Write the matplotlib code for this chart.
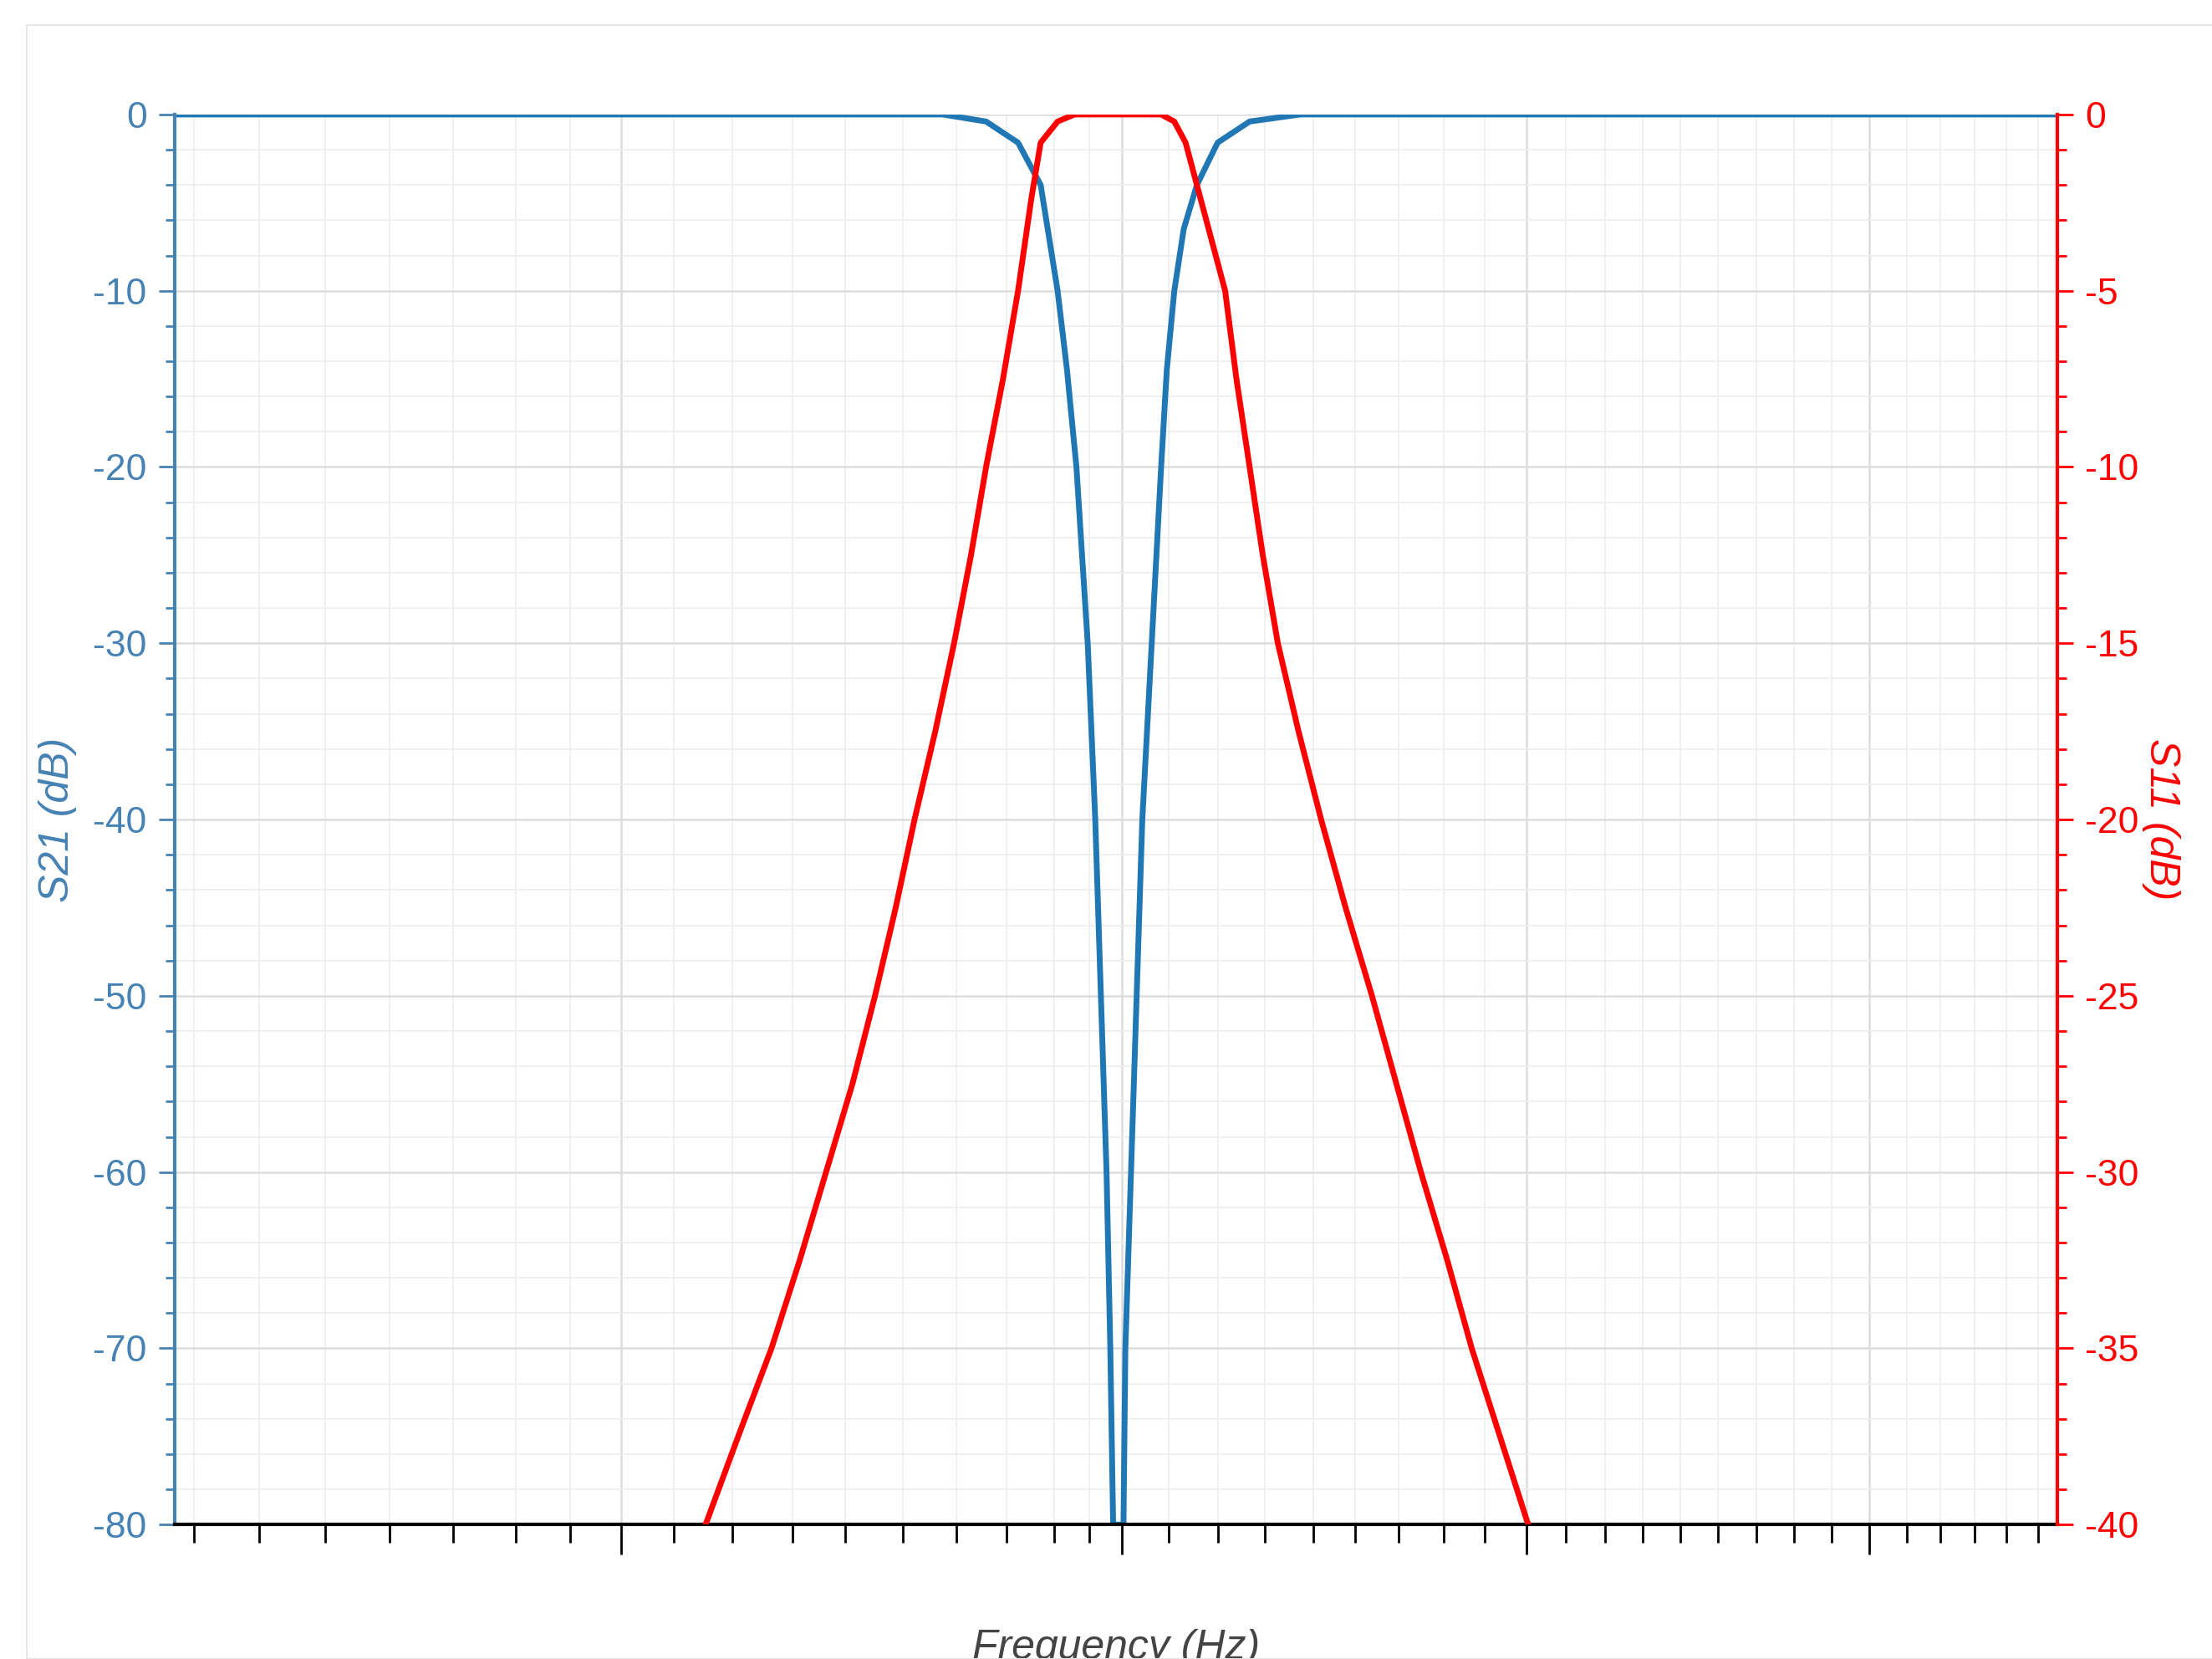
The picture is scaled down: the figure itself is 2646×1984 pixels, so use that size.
import matplotlib.pyplot as plt
from matplotlib.patches import Rectangle

plt.rcParams["font.family"] = ["Liberation Sans", "DejaVu Sans"]
plt.rcParams["axes.unicode_minus"] = False

# frequency in arbitrary units (0..100 across the plot), no tick labels in the source
s21_freq = [0, 40.8, 43.1, 44.8, 46.0, 46.9, 47.4, 47.9, 48.2, 48.5, 48.9, 49.2, 49.5, 49.7, 49.85,
            50.4, 50.5, 50.8, 51.1, 51.4, 51.9, 52.4, 52.7, 53.1, 53.6, 54.3, 55.4, 57.1, 59.8, 100]
s21_db = [0, 0, -0.4, -1.6, -4, -10, -14.5, -20, -25, -30, -40, -50, -60, -70, -80,
          -80, -70, -60, -50, -40, -30, -20, -14.5, -10, -6.5, -4, -1.6, -0.4, 0, 0]

s11_freq = [28.2, 30.0, 31.7, 33.2, 34.6, 36.0, 37.2, 38.3, 39.3, 40.4, 41.4, 42.3, 43.1,
            44.0, 44.8, 45.5, 46.0, 46.9, 47.8,
            52.4, 53.1, 53.7, 54.5, 55.8, 56.4, 57.1, 57.8, 58.6, 59.7, 60.9, 62.2, 63.6,
            64.9, 66.2, 67.6, 68.9, 70.4, 71.9]
s11_db = [-40, -37.4, -35, -32.5, -30, -27.5, -25, -22.5, -20, -17.5, -15, -12.5, -10,
          -7.5, -5, -2.4, -0.8, -0.2, 0,
          0, -0.2, -0.8, -2.4, -5, -7.5, -10, -12.5, -15, -17.5, -20, -22.5, -25,
          -27.5, -30, -32.5, -35, -37.5, -40]

x_major = [23.7, 50.3, 71.8, 90.0]
x_minor = [1.0, 4.5, 8.0, 11.4, 14.8, 18.1, 21.0,
           26.5, 29.6, 32.8, 35.6, 38.7, 41.5, 44.2, 46.7, 48.6,
           52.8, 55.4, 57.9, 60.5, 62.7, 65.0, 67.4, 69.6,
           73.9, 76.0, 78.0, 80.0, 82.0, 84.0, 86.0, 88.0,
           92.0, 93.8, 95.6, 97.3, 99.0]

blue = "#1f77b4"
steel = "#4682b4"
red = "#ff0000"

fig = plt.figure(figsize=(26.46, 19.84), dpi=100)
fig.patches.append(Rectangle((0.012, 0.0), 0.99, 0.985, transform=fig.transFigure,
                             fill=False, edgecolor="#e6e6e6", linewidth=1.5))
ax = fig.add_axes([0.079, 0.081, 0.851, 0.850])
ax2 = ax.twinx()

ax.plot(s21_freq, s21_db, color=blue, linewidth=5, solid_joinstyle="round")
ax2.plot(s11_freq, s11_db, color=red, linewidth=5, solid_joinstyle="round")

ax.set_xlim(0, 100)
ax.set_ylim(-80, 0)
ax2.set_ylim(-40, 0)

ax.set_xticks(x_major)
ax.set_xticks(x_minor, minor=True)
ax.set_xticklabels([])
ax.set_yticks(range(-80, 1, 10))
ax.set_yticks(range(-80, 1, 2), minor=True)
ax2.set_yticks(range(-40, 1, 5))
ax2.set_yticks(range(-40, 1, 1), minor=True)

ax.grid(True, which="major", color="#dddddd", linewidth=1.8)
ax.grid(True, which="minor", color="#eeeeee", linewidth=1.2)
ax.set_axisbelow(True)

ax.spines["top"].set_visible(False)
ax2.spines["top"].set_visible(False)
ax2.spines["right"].set_color(red)
ax2.spines["right"].set_linewidth(3)
ax.spines["left"].set_color(steel)
ax.spines["left"].set_linewidth(3)
ax.spines["bottom"].set_linewidth(3)
ax2.spines["left"].set_visible(False)
ax2.spines["bottom"].set_visible(False)

ax.tick_params(axis="x", which="major", length=26, width=2, direction="out")
ax.tick_params(axis="x", which="minor", length=16, width=2, direction="out")
ax.tick_params(axis="y", which="major", length=14, width=2, colors=steel,
               labelsize=32, pad=10)
ax.tick_params(axis="y", which="minor", length=8, width=2, color=steel)
ax2.tick_params(axis="y", which="major", length=14, width=2, colors=red,
                labelsize=32, pad=10)
ax2.tick_params(axis="y", which="minor", length=8, width=2, color=red)

ax.set_ylabel("S21 (dB)", color=steel, fontsize=36, style="italic", labelpad=14)
ax2.set_ylabel("S11 (dB)", color=red, fontsize=36, style="italic", rotation=-90,
               labelpad=36)
ax.set_xlabel("Frequency (Hz)", color="#444444", fontsize=36, style="italic",
              labelpad=60)

fig.savefig("out.png", dpi=100)
